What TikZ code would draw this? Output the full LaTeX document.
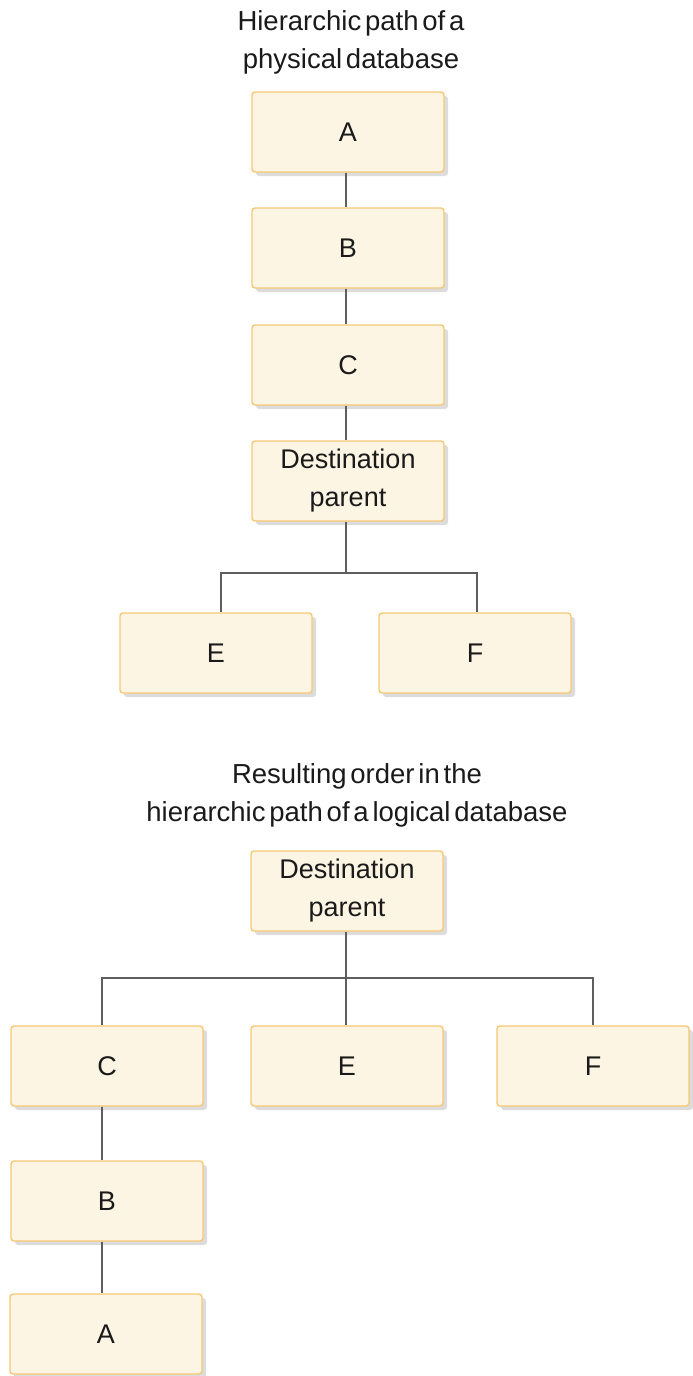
\documentclass[tikz,border=0pt]{standalone}
\usepackage{fontspec}
\setmainfont{Liberation Sans}
\newfontfamily\tightfont[WordSpace=0.5]{Liberation Sans}
\usetikzlibrary{shadows}
\definecolor{boxfill}{HTML}{FDF5E4}
\definecolor{boxline}{HTML}{F6C774}
\definecolor{shadowc}{HTML}{DCDCDC}
\definecolor{linec}{HTML}{5E5E5E}
\definecolor{textc}{HTML}{1A1A1A}
\begin{document}
\begin{tikzpicture}[x=1pt,y=-1pt,
  seg/.style={draw=boxline, fill=boxfill, line width=1.4pt, rounded corners=3pt,
    minimum width=192pt, minimum height=80pt, inner sep=0pt, align=center,
    text=textc, font=\fontsize{27}{38}\selectfont,
    drop shadow={shadow xshift=4pt, shadow yshift=-4pt, fill=shadowc, opacity=1}},
  conn/.style={draw=linec, line width=1.3pt},
  title/.style={align=center, text=textc, font=\tightfont\fontsize{27.5}{38}\selectfont, inner sep=0pt}]
\useasboundingbox (0,0) rectangle (693,1376);
% top diagram
\node[title] (t1) at (351,42) {Hierarchic path of a\\physical database};
\node[seg] (A1) at (348,132) {A};
\node[seg] (B1) at (348,248) {B};
\node[seg] (C1) at (348,365) {C};
\node[seg] (P1) at (348,481) {Destination\\parent};
\node[seg] (E1) at (216,653) {E};
\node[seg] (F1) at (475,653) {F};
\draw[conn] ([xshift=-2pt]A1.south) -- ([xshift=-2pt]B1.north);
\draw[conn] ([xshift=-2pt]B1.south) -- ([xshift=-2pt]C1.north);
\draw[conn] ([xshift=-2pt]C1.south) -- ([xshift=-2pt]P1.north);
\coordinate (j1) at (346,573);
\draw[conn] ([xshift=-2pt]P1.south) -- (j1) -| ([xshift=5pt]E1.north);
\draw[conn] (j1) -| ([xshift=2pt]F1.north);
% bottom diagram
\node[title] (t2) at (357,795) {Resulting order in the\\hierarchic path of a logical database};
\node[seg] (P2) at (347,891) {Destination\\parent};
\node[seg] (C2) at (107,1066) {C};
\node[seg] (E2) at (347,1066) {E};
\node[seg] (F2) at (593,1066) {F};
\node[seg] (B2) at (107,1201) {B};
\node[seg] (A2) at (106,1334) {A};
\coordinate (j2) at (346,978);
\draw[conn] ([xshift=-1pt]P2.south) -- (j2) -| ([xshift=-5pt]C2.north);
\draw[conn] (j2) -- ([xshift=-1pt]E2.north);
\draw[conn] (j2) -| (F2.north);
\draw[conn] ([xshift=-5pt]C2.south) -- ([xshift=-5pt]B2.north);
\draw[conn] ([xshift=-5pt]B2.south) -- ([xshift=-4pt]A2.north);
\end{tikzpicture}
\end{document}
